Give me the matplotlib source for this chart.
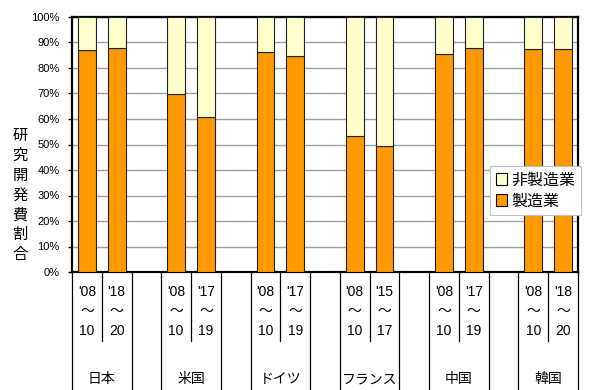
import matplotlib
matplotlib.use("Agg")
import matplotlib.pyplot as plt
from matplotlib.patches import Patch
from matplotlib.lines import Line2D
import matplotlib.transforms as mtransforms

countries = ["日本", "米国", "ドイツ", "フランス", "中国", "韓国"]
periods = [("'08", "10", "'18", "20"), ("'08", "10", "'17", "19"), ("'08", "10", "'17", "19"),
           ("'08", "10", "'15", "17"), ("'08", "10", "'17", "19"), ("'08", "10", "'18", "20")]
manufacturing = [87.0, 87.7, 69.8, 60.7, 86.4, 84.9, 53.5, 49.6, 85.3, 87.9, 87.3, 87.6]
non_manufacturing = [100 - v for v in manufacturing]
yticks = [0, 10, 20, 30, 40, 50, 60, 70, 80, 90, 100]

ORANGE = "#FF9900"
YELLOW = "#FFFFCC"
JP = ["Noto Sans CJK JP", "DejaVu Sans"]
LAT = ["Liberation Sans", "Noto Sans CJK JP", "DejaVu Sans"]

fig = plt.figure(figsize=(6, 3.9), dpi=100)
ax = fig.add_axes([72/600, 1-272/390, (578-72)/600, (272-17)/390])

xs = []
for g in range(len(countries)):
    xs += [3*g, 3*g+1]

ax.bar(xs, manufacturing, width=0.6, color=ORANGE, edgecolor="#222222", linewidth=0.8, zorder=3)
ax.bar(xs, non_manufacturing, bottom=manufacturing, width=0.6, color=YELLOW,
       edgecolor="#222222", linewidth=0.8, zorder=3)

ax.set_xlim(-0.5, 3*len(countries) - 1.5)
ax.set_ylim(0, 100)
ax.set_yticks(yticks)
ax.set_yticklabels([f"{v}%" for v in yticks], fontsize=8, family=LAT)
ax.tick_params(axis="y", length=3, width=1, pad=6, direction="out")
ax.set_xticks([])
ax.grid(axis="y", color="#A0A0A0", linewidth=1.0, zorder=0)
for s in ax.spines.values():
    s.set_linewidth(1.6)
    s.set_color("black")

trans = mtransforms.blended_transform_factory(ax.transData, ax.transAxes)
h = 255.0
def yax(py):
    return (272 - py) / h

# separators
for g in range(len(countries)):
    for xb in (3*g - 0.5, 3*g + 1.5):
        ax.add_line(Line2D([xb, xb], [0, yax(392)], transform=trans, color="black",
                           linewidth=0.9, clip_on=False))
    xb = 3*g + 0.5
    ax.add_line(Line2D([xb, xb], [0, yax(341)], transform=trans, color="black",
                       linewidth=0.9, clip_on=False))

# category labels
for g, c in enumerate(countries):
    p = periods[g]
    for k, x in enumerate((3*g, 3*g+1)):
        a, b = p[2*k], p[2*k+1]
        ax.text(x, yax(292), a, transform=trans, ha="center", va="center", fontsize=10, family=LAT)
        ax.text(x, yax(311), "～", transform=trans, ha="center", va="center", fontsize=10, family=JP)
        ax.text(x, yax(331), b, transform=trans, ha="center", va="center", fontsize=10, family=LAT)
    ax.text(3*g + 0.5, yax(379), c, transform=trans, ha="center", va="center", fontsize=10, family=JP)

# y label (vertical stacked)
fig.text(20/600, 1-195/390, "\n".join("研究開発費割合"), ha="center", va="center",
         fontsize=11, family=JP, linespacing=1.23)

handles = [Patch(facecolor=YELLOW, edgecolor="black", linewidth=0.8, label="非製造業"),
           Patch(facecolor=ORANGE, edgecolor="black", linewidth=0.8, label="製造業")]
leg = ax.legend(handles=handles, loc="upper left", bbox_to_anchor=(490/600, 1-166/390),
                bbox_transform=fig.transFigure, borderaxespad=0, frameon=True, fancybox=False,
                framealpha=1, prop={"family": JP, "size": 11.5}, handlelength=0.7, handleheight=0.7,
                handletextpad=0.3, labelspacing=0.25, borderpad=0.35)
leg.get_frame().set_edgecolor("#C0C0C0")
leg.get_frame().set_linewidth(0.8)

fig.savefig("out.png", dpi=100)
